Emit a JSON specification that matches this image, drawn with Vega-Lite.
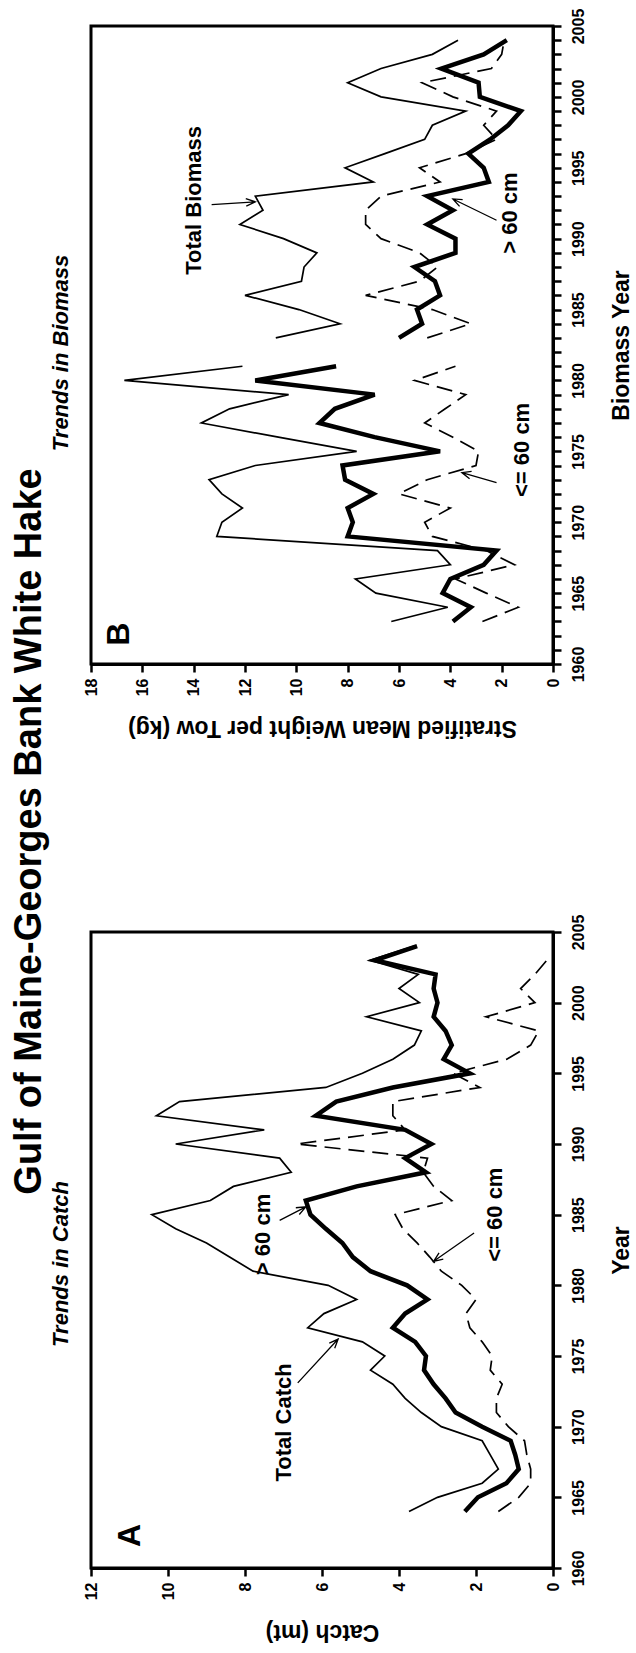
{
  "$schema": "https://vega.github.io/schema/vega-lite/v6.json",
  "padding": {"left": 10, "top": 6, "right": 0, "bottom": 0},
  "background": "white",
  "title": {
    "text": "Gulf of Maine-Georges Bank White Hake",
    "orient": "left",
    "anchor": "middle",
    "frame": "bounds",
    "fontSize": 38,
    "fontWeight": "bold",
    "font": "Liberation Sans",
    "color": "black",
    "offset": 0,
    "dx": -6
  },
  "config": {
    "font": "Liberation Sans",
    "view": {"stroke": "black", "strokeWidth": 3},
    "line": {"color": "black", "strokeJoin": "miter", "strokeCap": "butt"},
    "axis": {
      "grid": false,
      "domainColor": "black",
      "domainWidth": 3,
      "tickColor": "black",
      "tickWidth": 2.5,
      "tickSize": 8,
      "labelFont": "Liberation Sans",
      "labelFontWeight": "bold",
      "labelFontSize": 16,
      "labelColor": "black",
      "labelAngle": 270,
      "labelOverlap": false,
      "titleFont": "Liberation Sans",
      "titleFontWeight": "bold",
      "titleFontSize": 23,
      "titleColor": "black"
    }
  },
  "datasets": {
    "catch": [
      {"year": 1964, "seg": 1, "total": 3.74, "gt60": 2.29, "le60": 1.42},
      {"year": 1965, "seg": 1, "total": 3.0, "gt60": 1.95, "le60": 0.89},
      {"year": 1966, "seg": 1, "total": 1.84, "gt60": 1.21, "le60": 0.58},
      {"year": 1967, "seg": 1, "total": 1.42, "gt60": 0.89, "le60": 0.58},
      {"year": 1968, "seg": 1, "total": 1.63, "gt60": 0.98, "le60": 0.68},
      {"year": 1969, "seg": 1, "total": 1.84, "gt60": 1.1, "le60": 0.74},
      {"year": 1970, "seg": 1, "total": 2.9, "gt60": 1.84, "le60": 1.16},
      {"year": 1971, "seg": 1, "total": 3.42, "gt60": 2.53, "le60": 1.47},
      {"year": 1972, "seg": 1, "total": 3.84, "gt60": 2.79, "le60": 1.47},
      {"year": 1973, "seg": 1, "total": 4.16, "gt60": 3.1, "le60": 1.32},
      {"year": 1974, "seg": 1, "total": 4.74, "gt60": 3.35, "le60": 1.63},
      {"year": 1975, "seg": 1, "total": 4.37, "gt60": 3.3, "le60": 1.58},
      {"year": 1976, "seg": 1, "total": 4.95, "gt60": 3.58, "le60": 1.84},
      {"year": 1977, "seg": 1, "total": 6.37, "gt60": 4.16, "le60": 2.16},
      {"year": 1978, "seg": 1, "total": 5.95, "gt60": 3.84, "le60": 2.26},
      {"year": 1979, "seg": 1, "total": 5.1, "gt60": 3.26, "le60": 2.0},
      {"year": 1980, "seg": 1, "total": 5.84, "gt60": 3.79, "le60": 2.37},
      {"year": 1981, "seg": 1, "total": 7.79, "gt60": 4.74, "le60": 2.9},
      {"year": 1982, "seg": 1, "total": 8.4, "gt60": 5.2, "le60": 3.2},
      {"year": 1983, "seg": 1, "total": 9.0, "gt60": 5.47, "le60": 3.53},
      {"year": 1984, "seg": 1, "total": 9.8, "gt60": 5.9, "le60": 3.9},
      {"year": 1985, "seg": 1, "total": 10.42, "gt60": 6.3, "le60": 4.1},
      {"year": 1986, "seg": 1, "total": 8.9, "gt60": 6.42, "le60": 2.63},
      {"year": 1987, "seg": 1, "total": 8.3, "gt60": 5.1, "le60": 3.1},
      {"year": 1988, "seg": 1, "total": 6.8, "gt60": 3.3, "le60": 3.37},
      {"year": 1989, "seg": 1, "total": 7.1, "gt60": 3.84, "le60": 3.26},
      {"year": 1990, "seg": 1, "total": 9.8, "gt60": 3.16, "le60": 6.66},
      {"year": 1991, "seg": 1, "total": 7.5, "gt60": 3.84, "le60": 3.84},
      {"year": 1992, "seg": 1, "total": 10.3, "gt60": 6.16, "le60": 4.16},
      {"year": 1993, "seg": 1, "total": 9.7, "gt60": 5.63, "le60": 4.16},
      {"year": 1994, "seg": 1, "total": 5.9, "gt60": 4.16, "le60": 1.9},
      {"year": 1995, "seg": 1, "total": 4.95, "gt60": 2.16, "le60": 2.6},
      {"year": 1996, "seg": 1, "total": 4.16, "gt60": 2.84, "le60": 1.2},
      {"year": 1997, "seg": 1, "total": 3.6, "gt60": 2.63, "le60": 0.58},
      {"year": 1998, "seg": 1, "total": 3.42, "gt60": 2.79, "le60": 0.37},
      {"year": 1999, "seg": 1, "total": 4.84, "gt60": 3.1, "le60": 1.74},
      {"year": 2000, "seg": 1, "total": 3.47, "gt60": 3.0, "le60": 0.47},
      {"year": 2001, "seg": 1, "total": 4.0, "gt60": 3.1, "le60": 0.84},
      {"year": 2002, "seg": 1, "total": 3.5, "gt60": 3.05, "le60": 0.47},
      {"year": 2003, "seg": 1, "total": 4.75, "gt60": 4.63, "le60": 0.16},
      {"year": 2004, "seg": 1, "total": 3.6, "gt60": 3.53, "le60": null}
    ],
    "biomass": [
      {"year": 1963, "seg": 1, "total": 6.3, "gt60": 3.9, "le60": 2.75},
      {"year": 1964, "seg": 1, "total": 4.1, "gt60": 3.2, "le60": 1.35},
      {"year": 1965, "seg": 1, "total": 6.9, "gt60": 4.3, "le60": 2.6},
      {"year": 1966, "seg": 1, "total": 7.7, "gt60": 4.0, "le60": 3.8},
      {"year": 1967, "seg": 1, "total": 4.0, "gt60": 2.7, "le60": 1.5},
      {"year": 1968, "seg": 1, "total": 4.5, "gt60": 2.2, "le60": 2.6},
      {"year": 1969, "seg": 1, "total": 13.1, "gt60": 8.0, "le60": 4.7},
      {"year": 1970, "seg": 1, "total": 12.9, "gt60": 7.8, "le60": 5.0},
      {"year": 1971, "seg": 1, "total": 12.1, "gt60": 8.0, "le60": 4.0},
      {"year": 1972, "seg": 1, "total": 12.9, "gt60": 7.0, "le60": 6.0},
      {"year": 1973, "seg": 1, "total": 13.4, "gt60": 8.1, "le60": 4.9},
      {"year": 1974, "seg": 1, "total": 11.6, "gt60": 8.2, "le60": 3.0},
      {"year": 1975, "seg": 1, "total": 7.65, "gt60": 4.4, "le60": 2.9},
      {"year": 1976, "seg": 1, "total": 10.7, "gt60": 6.95, "le60": 3.9},
      {"year": 1977, "seg": 1, "total": 13.7, "gt60": 9.1, "le60": 5.0},
      {"year": 1978, "seg": 1, "total": 12.6, "gt60": 8.5, "le60": 4.2},
      {"year": 1979, "seg": 1, "total": 10.3, "gt60": 6.95, "le60": 3.4},
      {"year": 1980, "seg": 1, "total": 16.7, "gt60": 11.6, "le60": 5.4},
      {"year": 1981, "seg": 1, "total": 12.1, "gt60": 8.45, "le60": 3.8},
      {"year": 1983, "seg": 2, "total": 10.8, "gt60": 6.0, "le60": 4.9},
      {"year": 1984, "seg": 2, "total": 8.3, "gt60": 5.1, "le60": 3.2},
      {"year": 1985, "seg": 2, "total": 9.9, "gt60": 5.3, "le60": 4.7},
      {"year": 1986, "seg": 2, "total": 12.0, "gt60": 4.4, "le60": 7.3},
      {"year": 1987, "seg": 2, "total": 9.8, "gt60": 4.6, "le60": 5.2},
      {"year": 1988, "seg": 2, "total": 9.7, "gt60": 5.4, "le60": 4.5},
      {"year": 1989, "seg": 2, "total": 9.2, "gt60": 3.8, "le60": 5.2},
      {"year": 1990, "seg": 2, "total": 10.5, "gt60": 3.8, "le60": 6.7},
      {"year": 1991, "seg": 2, "total": 12.2, "gt60": 4.9, "le60": 7.3},
      {"year": 1992, "seg": 2, "total": 11.3, "gt60": 3.9, "le60": 7.3},
      {"year": 1993, "seg": 2, "total": 11.6, "gt60": 4.9, "le60": 6.7},
      {"year": 1994, "seg": 2, "total": 7.0, "gt60": 2.5, "le60": 4.4},
      {"year": 1995, "seg": 2, "total": 8.1, "gt60": 2.7, "le60": 5.2},
      {"year": 1996, "seg": 2, "total": 6.55, "gt60": 3.3, "le60": 3.4},
      {"year": 1997, "seg": 2, "total": 5.0, "gt60": 2.45, "le60": 2.2},
      {"year": 1998, "seg": 2, "total": 4.7, "gt60": 1.75, "le60": 2.7},
      {"year": 1999, "seg": 2, "total": 3.4, "gt60": 1.25, "le60": 2.2},
      {"year": 2000, "seg": 2, "total": 6.7, "gt60": 2.85, "le60": 3.9},
      {"year": 2001, "seg": 2, "total": 8.0, "gt60": 2.9, "le60": 5.1},
      {"year": 2002, "seg": 2, "total": 6.7, "gt60": 4.35, "le60": 2.4},
      {"year": 2003, "seg": 2, "total": 4.7, "gt60": 2.7, "le60": 2.0},
      {"year": 2004, "seg": 2, "total": 3.7, "gt60": 1.8, "le60": 1.9}
    ]
  },
  "spacing": 171,
  "vconcat": [
    {
      "width": 462,
      "height": 638,
      "title": {"text": "Trends in Biomass", "orient": "left", "anchor": "middle", "frame": "group", "fontStyle": "italic", "fontWeight": "bold", "fontSize": 22, "color": "black", "offset": 10, "dx": -8},
      "encoding": {
        "y": {"field": "year", "type": "quantitative", "scale": {"domain": [1960, 2005]},
              "axis": {"orient": "right", "title": "Biomass Year", "titleAngle": 270, "titleBaseline": "top", "titleAlign": "center", "format": "d",
                       "values": [1960, 1961, 1962, 1963, 1964, 1965, 1966, 1967, 1968, 1969, 1970, 1971, 1972, 1973, 1974, 1975, 1976, 1977, 1978, 1979, 1980, 1981, 1982, 1983, 1984, 1985, 1986, 1987, 1988, 1989, 1990, 1991, 1992, 1993, 1994, 1995, 1996, 1997, 1998, 1999, 2000, 2001, 2002, 2003, 2004, 2005],
                       "labelExpr": "datum.value % 5 == 0 ? datum.label : ''",
                       "labelAlign": "center", "labelBaseline": "top", "labelPadding": 9, "titlePadding": 24}}
      },
      "layer": [
        {
          "data": {"name": "biomass"},
          "transform": [{"fold": ["total", "gt60", "le60"], "as": ["series", "value"]}, {"filter": "datum.series == 'total'"}],
          "mark": {"type": "line", "strokeWidth": 1.7},
          "encoding": {
            "x": {"field": "value", "type": "quantitative", "scale": {"domain": [0, 18], "reverse": true},
                  "axis": {"title": "Stratified Mean Weight per Tow (kg)", "values": [0, 2, 4, 6, 8, 10, 12, 14, 16, 18], "titleAngle": 180, "titleBaseline": "bottom", "labelAlign": "right", "labelBaseline": "middle", "labelPadding": 6, "titlePadding": 20}},
            "order": {"field": "year", "type": "quantitative"},
            "detail": {"field": "seg", "type": "nominal"}
          }
        },
        {
          "data": {"name": "biomass"},
          "transform": [{"fold": ["total", "gt60", "le60"], "as": ["series", "value"]}, {"filter": "datum.series == 'gt60'"}],
          "mark": {"type": "line", "strokeWidth": 4.5},
          "encoding": {
            "x": {"field": "value", "type": "quantitative"},
            "order": {"field": "year", "type": "quantitative"},
            "detail": {"field": "seg", "type": "nominal"}
          }
        },
        {
          "data": {"name": "biomass"},
          "transform": [{"fold": ["total", "gt60", "le60"], "as": ["series", "value"]}, {"filter": "datum.series == 'le60'"}],
          "mark": {"type": "line", "strokeWidth": 1.7, "strokeDash": [16, 8]},
          "encoding": {
            "x": {"field": "value", "type": "quantitative"},
            "order": {"field": "year", "type": "quantitative"},
            "detail": {"field": "seg", "type": "nominal"}
          }
        },
        {
          "data": {"values": [
            {"label": "Total Biomass", "value": 14.0, "year": 1992.7},
            {"label": "> 60 cm", "value": 1.66, "year": 1991.8},
            {"label": "<= 60 cm", "value": 1.2, "year": 1975.1}
          ]},
          "mark": {"type": "text", "angle": 270, "fontSize": 22, "fontWeight": "bold", "color": "black", "align": "center", "baseline": "middle"},
          "encoding": {
            "x": {"field": "value", "type": "quantitative"},
            "text": {"field": "label"}
          }
        },
        {
          "data": {"values": [{"label": "B", "value": 16.9, "year": 1962.1}]},
          "mark": {"type": "text", "angle": 270, "fontSize": 32, "fontWeight": "bold", "color": "black", "align": "center", "baseline": "middle"},
          "encoding": {
            "x": {"field": "value", "type": "quantitative"},
            "text": {"field": "label"}
          }
        },
        {
          "data": {"values": [
            {"arrow": "total", "k": 0, "value": 13.3, "year": 1992.4},
            {"arrow": "total", "k": 1, "value": 11.6, "year": 1992.6},
            {"arrow": "total", "k": 2, "value": 11.97, "year": 1992.82},
            {"arrow": "total", "k": 3, "value": 11.6, "year": 1992.6},
            {"arrow": "total", "k": 4, "value": 11.95, "year": 1992.29},
            {"arrow": "gt60", "k": 0, "value": 2.2, "year": 1991.3},
            {"arrow": "gt60", "k": 1, "value": 3.9, "year": 1992.8},
            {"arrow": "gt60", "k": 2, "value": 3.64, "year": 1992.28},
            {"arrow": "gt60", "k": 3, "value": 3.9, "year": 1992.8},
            {"arrow": "gt60", "k": 4, "value": 3.52, "year": 1992.75},
            {"arrow": "le60", "k": 0, "value": 2.2, "year": 1972.8},
            {"arrow": "le60", "k": 1, "value": 3.55, "year": 1973.5},
            {"arrow": "le60", "k": 2, "value": 3.25, "year": 1973.07},
            {"arrow": "le60", "k": 3, "value": 3.55, "year": 1973.5},
            {"arrow": "le60", "k": 4, "value": 3.17, "year": 1973.58}
          ]},
          "mark": {"type": "line", "strokeWidth": 1.3},
          "encoding": {
            "x": {"field": "value", "type": "quantitative"},
            "order": {"field": "k", "type": "quantitative"},
            "detail": {"field": "arrow", "type": "nominal"}
          }
        }
      ]
    },
    {
      "width": 462,
      "height": 636,
      "title": {"text": "Trends in Catch", "orient": "left", "anchor": "middle", "frame": "group", "fontStyle": "italic", "fontWeight": "bold", "fontSize": 22, "color": "black", "offset": 10, "dx": -14},
      "encoding": {
        "y": {"field": "year", "type": "quantitative", "scale": {"domain": [1960, 2005]},
              "axis": {"orient": "right", "title": "Year", "titleAngle": 270, "titleBaseline": "top", "titleAlign": "center", "format": "d",
                       "values": [1960, 1965, 1970, 1975, 1980, 1985, 1990, 1995, 2000, 2005],
                       "labelAlign": "center", "labelBaseline": "top", "labelPadding": 9, "titlePadding": 24}}
      },
      "layer": [
        {
          "data": {"name": "catch"},
          "transform": [{"fold": ["total", "gt60", "le60"], "as": ["series", "value"]}, {"filter": "datum.series == 'total'"}],
          "mark": {"type": "line", "strokeWidth": 1.7},
          "encoding": {
            "x": {"field": "value", "type": "quantitative", "scale": {"domain": [0, 12], "reverse": true},
                  "axis": {"title": "Catch (mt)", "values": [0, 2, 4, 6, 8, 10, 12], "titleAngle": 180, "titleBaseline": "bottom", "labelAlign": "right", "labelBaseline": "middle", "labelPadding": 6, "titlePadding": 20}},
            "order": {"field": "year", "type": "quantitative"},
            "detail": {"field": "seg", "type": "nominal"}
          }
        },
        {
          "data": {"name": "catch"},
          "transform": [{"fold": ["total", "gt60", "le60"], "as": ["series", "value"]}, {"filter": "datum.series == 'gt60'"}],
          "mark": {"type": "line", "strokeWidth": 4.5},
          "encoding": {
            "x": {"field": "value", "type": "quantitative"},
            "order": {"field": "year", "type": "quantitative"},
            "detail": {"field": "seg", "type": "nominal"}
          }
        },
        {
          "data": {"name": "catch"},
          "transform": [{"fold": ["total", "gt60", "le60"], "as": ["series", "value"]}, {"filter": "datum.series == 'le60' && datum.value != null"}],
          "mark": {"type": "line", "strokeWidth": 1.7, "strokeDash": [16, 8]},
          "encoding": {
            "x": {"field": "value", "type": "quantitative"},
            "order": {"field": "year", "type": "quantitative"},
            "detail": {"field": "seg", "type": "nominal"}
          }
        },
        {
          "data": {"values": [
            {"label": "Total Catch", "value": 6.98, "year": 1970.3},
            {"label": "> 60 cm", "value": 7.53, "year": 1983.6},
            {"label": "<= 60 cm", "value": 1.5, "year": 1985.0}
          ]},
          "mark": {"type": "text", "angle": 270, "fontSize": 22, "fontWeight": "bold", "color": "black", "align": "center", "baseline": "middle"},
          "encoding": {
            "x": {"field": "value", "type": "quantitative"},
            "text": {"field": "label"}
          }
        },
        {
          "data": {"values": [{"label": "A", "value": 11.0, "year": 1962.3}]},
          "mark": {"type": "text", "angle": 270, "fontSize": 32, "fontWeight": "bold", "color": "black", "align": "center", "baseline": "middle"},
          "encoding": {
            "x": {"field": "value", "type": "quantitative"},
            "text": {"field": "label"}
          }
        },
        {
          "data": {"values": [
            {"arrow": "total", "k": 0, "value": 6.63, "year": 1973.1},
            {"arrow": "total", "k": 1, "value": 5.58, "year": 1976.2},
            {"arrow": "total", "k": 2, "value": 5.81, "year": 1975.91},
            {"arrow": "total", "k": 3, "value": 5.58, "year": 1976.2},
            {"arrow": "total", "k": 4, "value": 5.67, "year": 1975.55},
            {"arrow": "gt60", "k": 0, "value": 7.1, "year": 1984.6},
            {"arrow": "gt60", "k": 1, "value": 6.42, "year": 1985.55},
            {"arrow": "gt60", "k": 2, "value": 6.68, "year": 1985.49},
            {"arrow": "gt60", "k": 3, "value": 6.42, "year": 1985.55},
            {"arrow": "gt60", "k": 4, "value": 6.59, "year": 1985.01},
            {"arrow": "le60", "k": 0, "value": 2.05, "year": 1983.7},
            {"arrow": "le60", "k": 1, "value": 3.1, "year": 1981.7},
            {"arrow": "le60", "k": 2, "value": 2.85, "year": 1981.86},
            {"arrow": "le60", "k": 3, "value": 3.1, "year": 1981.7},
            {"arrow": "le60", "k": 4, "value": 2.96, "year": 1982.3}
          ]},
          "mark": {"type": "line", "strokeWidth": 1.3},
          "encoding": {
            "x": {"field": "value", "type": "quantitative"},
            "order": {"field": "k", "type": "quantitative"},
            "detail": {"field": "arrow", "type": "nominal"}
          }
        }
      ]
    }
  ]
}
